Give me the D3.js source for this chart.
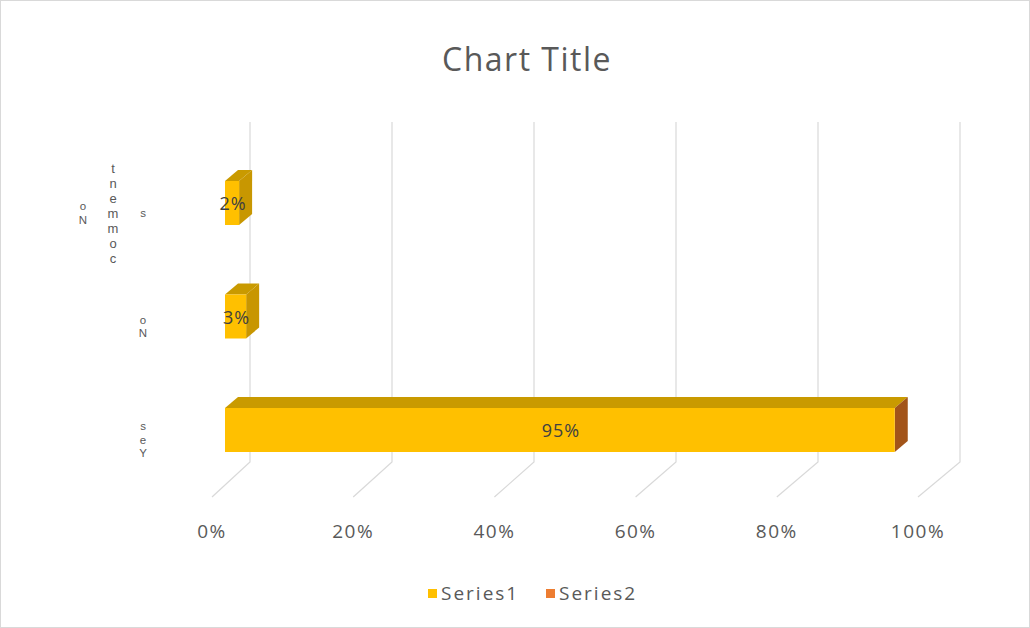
<!DOCTYPE html>
<html lang="en">
<head>
    <meta charset="UTF-8">
    <title>Chart Title</title>
    <style>
        body { margin: 0; background: #fff; }
        text { font-family: "Open Sans", "Noto Sans", sans-serif; }
        .stacked { font-family: "Liberation Sans", sans-serif; }
    </style>
</head>
<body>
<svg width="1030" height="628"></svg>
<script src="https://cdn.jsdelivr.net/npm/d3@7/dist/d3.min.js"></script>
<script>
    var categories = ["No comments", "No", "Yes"];
    var series1 = [0.02, 0.03, 0.95];
    var tickValues = [0, 0.2, 0.4, 0.6, 0.8, 1];
    var legendNames = ["Series1", "Series2"];

    var svg = d3.select("svg");
    var gold = "#ffc000", orange = "#ed7d31";

    svg.append("rect").attr("x", 0.5).attr("y", 0.5)
        .attr("width", 1029).attr("height", 627)
        .attr("fill", "#fff").attr("stroke", "#d9d9d9");

    // back wall, floor front and bar front planes
    var xBack = d3.scaleLinear().domain([0, 1]).range([250, 960]);
    var xFloor = d3.scaleLinear().domain([0, 1]).range([212, 918]);
    var xBar = d3.scaleLinear().domain([0, 1]).range([225, 930]);
    var y = d3.scalePoint().domain(categories).range([203, 430]);
    var wallTop = 122, wallBottom = 462, floorY = 497;
    var dx = 13, dy = -11, half = 22;

    svg.append("text").attr("x", 527).attr("y", 71)
        .attr("text-anchor", "middle").attr("font-size", 32)
        .attr("letter-spacing", 1.5)
        .attr("fill", "#595959").text("Chart Title");

    // gridlines bending onto the floor
    svg.append("g").selectAll("polyline").data(tickValues).join("polyline")
        .attr("points", d => [[xBack(d), wallTop], [xBack(d), wallBottom], [xFloor(d), floorY]].join(" "))
        .attr("fill", "none").attr("stroke", "#d9d9d9").attr("stroke-width", 1.2);

    svg.append("g").selectAll("text").data(tickValues).join("text")
        .attr("x", d => xFloor(d)).attr("y", 538)
        .attr("text-anchor", "middle").attr("font-size", 19)
        .attr("letter-spacing", 1.5).attr("fill", "#595959")
        .text(d3.format(".0%"));

    // bars
    var bars = svg.append("g").selectAll("g").data(categories).join("g");
    var sideColor = d3.scaleLinear().domain([0, 1]).range(["#c99800", "#a0501a"]);

    bars.append("polygon")
        .attr("points", (d, i) => {
            var x0 = xBar(0), x1 = xBar(series1[i]), y0 = y(d) - half;
            return [[x0, y0], [x1, y0], [x1 + dx, y0 + dy], [x0 + dx, y0 + dy]].join(" ");
        })
        .attr("fill", "#c99a00");
    bars.append("polygon")
        .attr("points", (d, i) => {
            var x1 = xBar(series1[i]), y0 = y(d) - half, y1 = y(d) + half;
            return [[x1, y0], [x1 + dx, y0 + dy], [x1 + dx, y1 + dy], [x1, y1]].join(" ");
        })
        .attr("fill", (d, i) => sideColor(series1[i]));
    bars.append("rect")
        .attr("x", xBar(0)).attr("y", d => y(d) - half)
        .attr("width", (d, i) => xBar(series1[i]) - xBar(0))
        .attr("height", half * 2)
        .attr("fill", gold);
    bars.append("text")
        .attr("x", (d, i) => (xBar(0) + xBar(series1[i])) / 2 + 1)
        .attr("y", d => y(d) + 7)
        .attr("text-anchor", "middle").attr("font-size", 18)
        .attr("letter-spacing", 1).attr("fill", "#404040")
        .text((d, i) => d3.format(".0%")(series1[i]));

    // category labels: upright letters stacked, read bottom to top
    function columns(label) {
        var out = [];
        label.split(" ").forEach(function (w) {
            while (w.length > 7) { out.push(w.slice(0, 7)); w = w.slice(7); }
            out.push(w);
        });
        return out;
    }
    var labels = svg.append("g");
    categories.forEach(function (c) {
        var cols = columns(c);
        cols.forEach(function (word, j) {
            var long = word.length > 3;
            var step = long ? 15 : 13.5;
            var fs = long ? 13 : 11.5;
            var cx = 143 - (cols.length - 1 - j) * 30;
            var bottom = y(c) + 10 + step * word.length / 2;
            var t = labels.append("text")
                .attr("class", "stacked")
                .attr("text-anchor", "middle")
                .attr("font-size", fs)
                .attr("fill", "#595959");
            word.split("").forEach(function (ch, k) {
                t.append("tspan").attr("x", cx)
                    .attr("y", bottom - k * step - 3)
                    .text(ch);
            });
        });
    });

    // legend
    var legendX = [428, 546];
    var legend = svg.append("g").selectAll("g").data(legendNames).join("g")
        .attr("transform", (d, i) => `translate(${legendX[i]}, 593)`);
    legend.append("rect").attr("x", 0).attr("y", -4).attr("width", 9).attr("height", 9)
        .attr("fill", (d, i) => i ? orange : gold);
    legend.append("text").attr("x", 13).attr("y", 7)
        .attr("font-size", 19).attr("letter-spacing", 2)
        .attr("fill", "#595959").text(d => d);
</script>
</body>
</html>
